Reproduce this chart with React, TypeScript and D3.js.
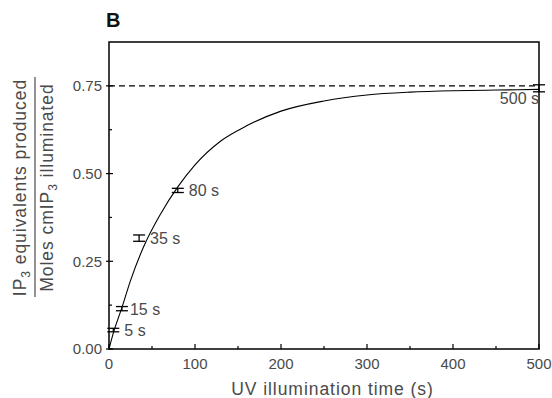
import * as d3 from "d3";

// measured time points (s) and IP3 produced / caged IP3 illuminated
const times = [5, 15, 35, 80, 500];
const means = [0.054, 0.115, 0.316, 0.452, 0.743];
const errs = [0.005, 0.006, 0.009, 0.006, 0.01];
const pointLabels = ["5 s", "15 s", "35 s", "80 s", "500 s"];

// fitted curve
const curveT = [0, 5, 15, 25, 40, 60, 80, 100, 130, 160, 200, 250, 300, 350, 400, 450, 500];
const curveV = [0, 0.045, 0.118, 0.195, 0.29, 0.385, 0.462, 0.525, 0.593, 0.636, 0.678, 0.707, 0.724, 0.732, 0.736, 0.738, 0.74];

// plateau (dashed line)
const plateau = 0.75;

const xTicks = [0, 100, 200, 300, 400, 500];
const xMinor = [50, 150, 250, 350, 450];
const yTicks = [0, 0.25, 0.5, 0.75];
const yMinor = [0.125, 0.375, 0.625];

export default function App() {
  const width = 552;
  const height = 398;
  const margin = { top: 42, right: 13, bottom: 49, left: 109 };

  const x = d3.scaleLinear().domain([0, 500]).range([margin.left, width - margin.right]);
  const y = d3.scaleLinear().domain([0, 0.875]).range([height - margin.bottom, margin.top]);

  const line = d3
    .line<number>()
    .x((_, i) => x(curveT[i]))
    .y((d) => y(d))
    .curve(d3.curveMonotoneX);

  const font = "'Liberation Sans', Arial, Helvetica, sans-serif";
  const grey = "#4a4a4a";
  const x0 = x(0);
  const y0 = y(0);
  const x1 = x(500);
  const yTop = y(0.875);

  // label placement next to each point
  const labelPos = (i: number) => {
    if (times[i] === 500) return { lx: x(times[i]), ly: y(means[i]) + 16, anchor: "end" };
    const dx = times[i] === 15 ? 8 : 11;
    return { lx: x(times[i]) + dx, ly: y(means[i]) + 6, anchor: "start" };
  };

  return (
    <svg
      width={width}
      height={height}
      style={{ position: "absolute", left: 0, top: 0, background: "#fff" }}
      fontFamily={font}
    >
      {/* panel letter */}
      <text x={106} y={27} fontSize={20} fontWeight="bold" fill="#111">B</text>

      {/* frame */}
      <rect x={x0} y={yTop} width={x1 - x0} height={y0 - yTop} fill="none" stroke="#000" strokeWidth={1.5} />

      {/* x ticks */}
      {xTicks.map((t) => (
        <g key={"xt" + t}>
          <line x1={x(t)} x2={x(t)} y1={y0} y2={y0 - 5} stroke="#000" strokeWidth={1.2} />
          <text x={x(t)} y={369} textAnchor="middle" fontSize={15} fill={grey}>{t}</text>
        </g>
      ))}
      {xMinor.map((t) => (
        <line key={"xm" + t} x1={x(t)} x2={x(t)} y1={y0} y2={y0 - 3} stroke="#000" strokeWidth={1.2} />
      ))}

      {/* y ticks */}
      {yTicks.map((t) => (
        <g key={"yt" + t}>
          <line x1={x0 - 3} x2={x0 + 4} y1={y(t)} y2={y(t)} stroke="#000" strokeWidth={1.2} />
          <text x={102} y={y(t) + 5.3} textAnchor="end" fontSize={15} fill={grey}>{t.toFixed(2)}</text>
        </g>
      ))}
      {yMinor.map((t) => (
        <line key={"ym" + t} x1={x0} x2={x0 + 3} y1={y(t)} y2={y(t)} stroke="#000" strokeWidth={1.2} />
      ))}

      {/* plateau */}
      <line x1={x0} x2={x1} y1={y(plateau)} y2={y(plateau)} stroke="#000" strokeWidth={1.2} strokeDasharray="6,4" />

      {/* fitted curve */}
      <path d={line(curveV) || ""} fill="none" stroke="#000" strokeWidth={1.1} />

      {/* error bars */}
      {times.map((t, i) => {
        const cx = x(t);
        const lo = y(means[i] - errs[i]);
        const hi = y(means[i] + errs[i]);
        return (
          <g key={"eb" + t} stroke="#000" strokeWidth={1.3}>
            <line x1={cx} x2={cx} y1={lo} y2={hi} />
            <line x1={cx - 6} x2={cx + 6} y1={lo} y2={lo} />
            <line x1={cx - 6} x2={cx + 6} y1={hi} y2={hi} />
          </g>
        );
      })}

      {/* point labels */}
      {pointLabels.map((s, i) => {
        const p = labelPos(i);
        return (
          <text key={"pl" + s} x={p.lx} y={p.ly} textAnchor={p.anchor} fontSize={16} fill={grey}>{s}</text>
        );
      })}

      {/* axis titles */}
      <text x={332.5} y={395} textAnchor="middle" fontSize={17.5} letterSpacing={0.95} fill={grey}>
        UV illumination time (s)
      </text>
      <g transform="rotate(-90)" fill={grey} fontSize={17.5} letterSpacing={0.95}>
        <text x={-187.5} y={25.5} textAnchor="middle">
          IP<tspan fontSize={12} dy={4}>3</tspan>
          <tspan dy={-4}> equivalents produced</tspan>
        </text>
        <text x={-187.5} y={52.5} textAnchor="middle">
          Moles cmIP<tspan fontSize={12} dy={4}>3</tspan>
          <tspan dy={-4}> illuminated</tspan>
        </text>
      </g>
      <line x1={35} x2={35} y1={77} y2={297} stroke={grey} strokeWidth={1.2} />
    </svg>
  );
}
